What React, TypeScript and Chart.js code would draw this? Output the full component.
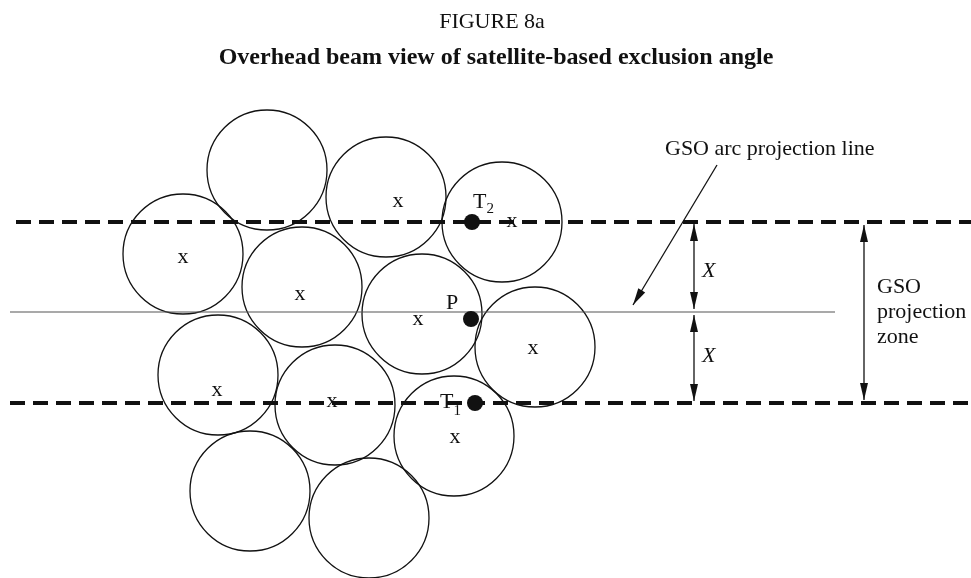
import { useEffect, useRef } from 'react';
import { Chart, registerables } from 'chart.js';

Chart.register(...registerables);

// Beam (circle) centres, diagram coordinates
const beamX = [267, 386, 502, 183, 302, 422, 535, 218, 335, 454, 250, 369];
const beamY = [170, 197, 222, 254, 287, 314, 347, 375, 405, 436, 491, 518];
const beamRadius = 60;

// "x" beam-centre marks (text baseline positions)
const markX = [398, 512, 183, 300, 418, 533, 217, 332, 455];
const markY = [207, 227, 263, 300, 325, 354, 396, 407, 443];

// Special points T2, P, T1
const pointNames = ['T2', 'P', 'T1'];
const pointX = [472, 471, 475];
const pointY = [222, 319, 403];

// Horizontal lines
const zoneTop = 222;
const arcLine = 312;
const zoneBottom = 403;
const dashStartX = [16, 10];
const dashEndX = 971;
const arcStartX = 10;
const arcEndX = 835;

// Dimension arrows
const xArrowX = 694;
const zoneArrowX = 864;
const pointerFrom = { x: 717, y: 165 };
const pointerTo = { x: 633, y: 305 };

const titleText = 'FIGURE 8a';
const subtitleText = 'Overhead beam view of satellite-based exclusion angle';
const arcLabel = 'GSO arc projection line';
const zoneLabel = ['GSO', 'projection', 'zone'];

const SERIF = '"Liberation Serif", "Times New Roman", serif';

const overlay = {
  id: 'overlay',
  afterDatasetsDraw(chart: any) {
    const ctx = chart.ctx as CanvasRenderingContext2D;
    const xs = chart.scales.x;
    const ys = chart.scales.y;
    const px = (v: number) => xs.getPixelForValue(v);
    const py = (v: number) => ys.getPixelForValue(v);
    ctx.save();
    ctx.fillStyle = '#111';
    ctx.strokeStyle = '#111';

    const head = (tx: number, ty: number, fx: number, fy: number, len: number, half: number) => {
      const a = Math.atan2(ty - fy, tx - fx);
      const cx = Math.cos(a), sy = Math.sin(a);
      const bx = tx - len * cx, by = ty - len * sy;
      ctx.beginPath();
      ctx.moveTo(tx, ty);
      ctx.lineTo(bx - half * sy, by + half * cx);
      ctx.lineTo(bx + half * sy, by - half * cx);
      ctx.closePath();
      ctx.fill();
    };
    const arrow = (x1: number, y1: number, x2: number, y2: number, both: boolean) => {
      const X1 = px(x1), Y1 = py(y1), X2 = px(x2), Y2 = py(y2);
      ctx.lineWidth = 1.3;
      ctx.beginPath();
      ctx.moveTo(X1, Y1);
      ctx.lineTo(X2, Y2);
      ctx.stroke();
      head(X2, Y2, X1, Y1, 17, 4);
      if (both) head(X1, Y1, X2, Y2, 17, 4);
    };

    arrow(xArrowX, zoneTop + 2, xArrowX, arcLine - 3, true);
    arrow(xArrowX, arcLine + 3, xArrowX, zoneBottom - 2, true);
    arrow(zoneArrowX, zoneTop + 3, zoneArrowX, zoneBottom - 3, true);
    arrow(pointerFrom.x, pointerFrom.y, pointerTo.x, pointerTo.y, false);

    // titles
    ctx.textAlign = 'center';
    ctx.textBaseline = 'alphabetic';
    ctx.font = `22px ${SERIF}`;
    ctx.fillText(titleText, 492, 28);
    ctx.font = `bold 24px ${SERIF}`;
    ctx.fillText(subtitleText, 496, 64);

    // x marks
    ctx.font = `22px ${SERIF}`;
    markX.forEach((x, i) => ctx.fillText('x', px(x), py(markY[i])));

    // point labels
    ctx.textAlign = 'left';
    const tW = ctx.measureText('T').width;
    ctx.fillText('T', px(473), py(208));
    ctx.fillText('T', px(440), py(408));
    ctx.fillText('P', px(446), py(309));
    ctx.font = `15px ${SERIF}`;
    ctx.fillText('2', px(473) + tW, py(213));
    ctx.fillText('1', px(440) + tW, py(415));

    // annotations
    ctx.font = `22px ${SERIF}`;
    ctx.fillText(arcLabel, px(665), py(155));
    zoneLabel.forEach((t, i) => ctx.fillText(t, px(877), py(293 + i * 25)));
    ctx.font = `italic 22px ${SERIF}`;
    ctx.fillText('X', px(702), py(277));
    ctx.fillText('X', px(702), py(362));
    ctx.restore();
  },
};

export default function App() {
  const ref = useRef<HTMLCanvasElement | null>(null);
  useEffect(() => {
    if (!ref.current) return;
    const chart = new Chart(ref.current, {
      type: 'scatter',
      data: {
        datasets: [
          {
            label: 'points',
            data: pointNames.map((_, i) => ({ x: pointX[i], y: pointY[i] })),
            pointRadius: 8,
            pointBackgroundColor: '#111',
            pointBorderWidth: 0,
            order: 0,
          },
          {
            label: 'zone top',
            data: [{ x: dashStartX[0], y: zoneTop }, { x: dashEndX, y: zoneTop }],
            showLine: true,
            borderColor: '#111',
            borderWidth: 4,
            borderDash: [15, 8],
            pointRadius: 0,
            order: 1,
          },
          {
            label: 'zone bottom',
            data: [{ x: dashStartX[1], y: zoneBottom }, { x: dashEndX, y: zoneBottom }],
            showLine: true,
            borderColor: '#111',
            borderWidth: 4,
            borderDash: [15, 8],
            pointRadius: 0,
            order: 1,
          },
          {
            label: 'GSO arc',
            data: [{ x: arcStartX, y: arcLine }, { x: arcEndX, y: arcLine }],
            showLine: true,
            borderColor: '#555',
            borderWidth: 1.2,
            pointRadius: 0,
            order: 1,
          },
          {
            label: 'beams',
            data: beamX.map((x, i) => ({ x, y: beamY[i] })),
            pointRadius: beamRadius,
            pointBackgroundColor: 'rgba(0,0,0,0)',
            pointBorderColor: '#111',
            pointBorderWidth: 1.3,
            order: 2,
          },
        ],
      },
      options: {
        animation: false,
        responsive: false,
        devicePixelRatio: 1,
        events: [],
        layout: { padding: 0, autoPadding: false },
        scales: {
          x: { type: 'linear', min: 0, max: 971, display: false },
          y: { type: 'linear', min: 0, max: 578, reverse: true, display: false },
        },
        plugins: { legend: { display: false }, tooltip: { enabled: false } },
      },
      plugins: [overlay],
    });
    return () => chart.destroy();
  }, []);
  return (
    <div style={{ position: 'absolute', left: 0, top: 0, width: 971, height: 578, background: '#fff' }}>
      <canvas ref={ref} width={971} height={578} style={{ display: 'block' }} />
    </div>
  );
}
